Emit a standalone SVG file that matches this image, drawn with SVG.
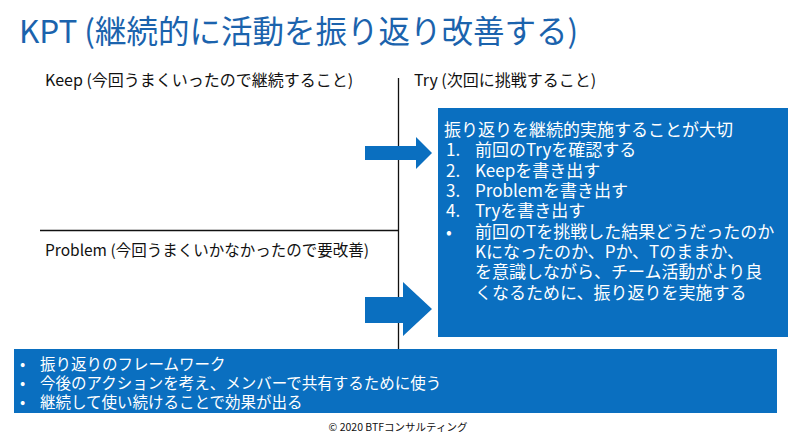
<svg xmlns="http://www.w3.org/2000/svg" width="800" height="439" viewBox="0 0 800 439">
<style>
text{font-family:"Noto Sans CJK JP","Noto Sans",sans-serif;}
.title{font-size:31.5px;fill:#1b63ad;}
.lbl{font-size:16px;fill:#111;}
.box{fill:#0a6fc0;}
.wt{font-size:17px;fill:#fff;}
.bt{font-size:15.5px;fill:#fff;}
.ln{stroke:#111;stroke-width:1.3;fill:none;}
.foot{font-size:10.5px;fill:#111;}
</style>
<rect width="800" height="439" fill="#fff"/>
<text class="title" x="19" y="43">KPT (継続的に活動を振り返り改善する)</text>
<g id="grid">
<line class="ln" x1="398.5" y1="78" x2="398.5" y2="349"/>
<line class="ln" x1="40" y1="230.5" x2="398.5" y2="230.5"/>
</g>
<g id="keep"><text class="lbl" x="45" y="86">Keep (今回うまくいったので継続すること)</text></g>
<g id="try"><text class="lbl" x="414" y="86">Try (次回に挑戦すること)</text></g>
<g id="problem"><text class="lbl" x="45" y="256" style="font-size:15.5px">Problem (今回うまくいかなかったので要改善)</text></g>
<g id="connectors">
<polygon class="box" points="365,146 416,146 416,137 432,153 416,169 416,160 365,160"/>
<polygon class="box" points="365,297 403,297 403,282 432,309 403,336 403,323 365,323"/>
</g>
<g id="trybox">
<rect class="box" x="438" y="108" width="350" height="229"/>
<text class="wt"><tspan x="444" y="136">振り返りを継続的実施することが大切</tspan><tspan x="446" y="156">1.</tspan><tspan x="475" y="156">前回のTryを確認する</tspan><tspan x="446" y="177">2.</tspan><tspan x="475" y="177">Keepを書き出す</tspan><tspan x="446" y="197">3.</tspan><tspan x="475" y="197">Problemを書き出す</tspan><tspan x="446" y="217">4.</tspan><tspan x="475" y="217">Tryを書き出す</tspan><tspan x="446" y="238">•</tspan><tspan x="475" y="238">前回のTを挑戦した結果どうだったのか</tspan><tspan x="475" y="258">Kになったのか、Pか、Tのままか、</tspan><tspan x="475" y="278">を意識しながら、チーム活動がより良</tspan><tspan x="475" y="299">くなるために、振り返りを実施する</tspan></text>
</g>
<g id="summary">
<rect class="box" x="14" y="349" width="763" height="64"/>
<text class="bt"><tspan x="20" y="370">•</tspan><tspan x="40" y="370">振り返りのフレームワーク</tspan><tspan x="20" y="389">•</tspan><tspan x="40" y="389">今後のアクションを考え、メンバーで共有するために使う</tspan><tspan x="20" y="408">•</tspan><tspan x="40" y="408">継続して使い続けることで効果が出る</tspan></text>
</g>
<text class="foot" x="398" y="431" text-anchor="middle">© 2020 BTFコンサルティング</text>
</svg>
